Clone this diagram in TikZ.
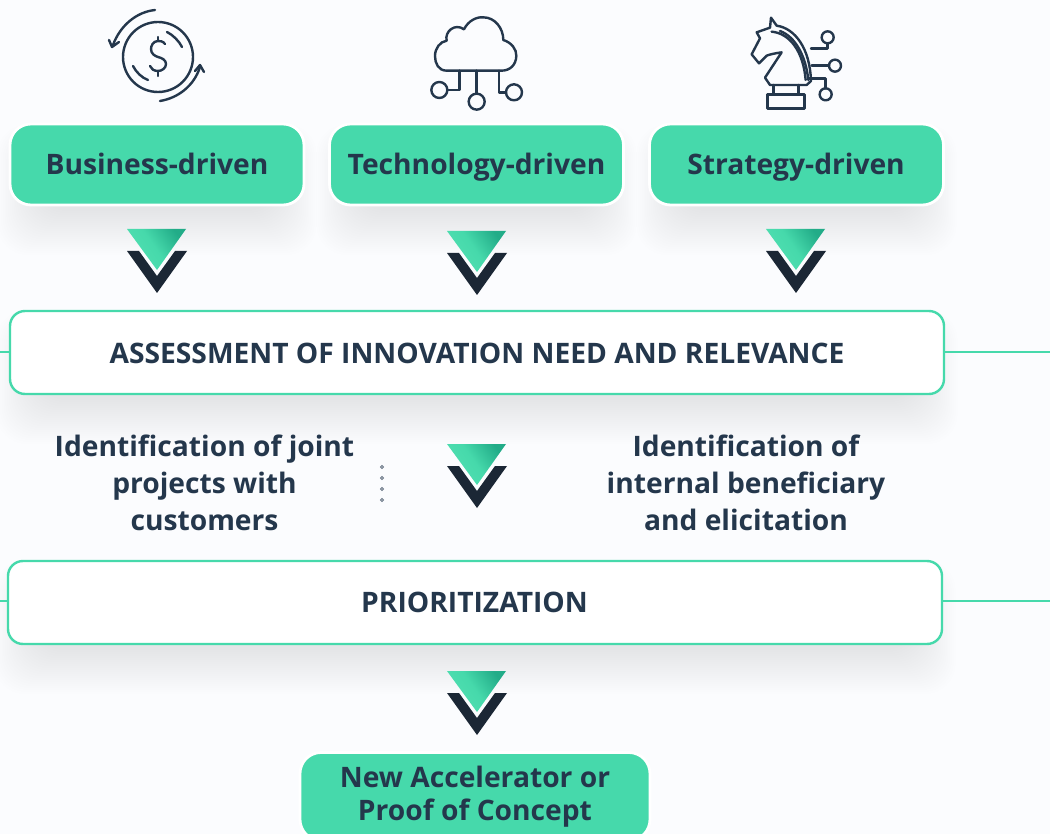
\documentclass[tikz,border=0pt]{standalone}
\usepackage{fontspec}
\setmainfont{Open Sans}
\usetikzlibrary{calc}
\definecolor{bgc}{HTML}{FBFCFE}
\definecolor{mint}{HTML}{46D9AB}
\definecolor{ink}{HTML}{24374C}
\definecolor{navy}{HTML}{1B2735}
\definecolor{mintlight}{HTML}{52E0B2}
\definecolor{mintdark}{HTML}{22AC88}
\newcommand{\softshadow}[4]{%
  \foreach \s in {0,2,...,44}{
    \fill[black,opacity=0.0032,rounded corners=30pt]
      ($(#1,#2)+(26-\s*0.9,30-\s*0.7)$) rectangle ($(#3,#4)+(\s*0.9-26,6+\s)$);
  }}
\tikzset{
  x=1pt,y=-1pt,
  drivebox/.style={draw=white,line width=2.8pt,fill=mint,rounded corners=21pt,inner sep=0pt},
  stagebox/.style={draw=mint,line width=2.4pt,fill=white,rounded corners=15pt,inner sep=0pt},
  link/.style={draw=mint,line width=2.4pt},
  label/.style={text=ink,font=\fontsize{28.2}{37}\selectfont\bfseries,align=center,inner sep=0pt},
  icon/.style={draw=ink,line width=2.4pt,line cap=round,line join=round},
  chevron/.pic={
    \shade[bottom color=mintlight,top color=mintdark,shading angle=-55,middle color=mint]
      (-30,0) -- (29,0) -- (0,41) -- cycle;
    \fill[navy] (-30,22) -- (-18,22) -- (0,47) -- (18,22) -- (30,22) -- (0,64) -- cycle;
  }
}
\begin{document}
\begin{tikzpicture}
\useasboundingbox (0,0) rectangle (1050,834);
\clip (0,0) rectangle (1050,834);
\fill[bgc] (0,0) rectangle (1050,834);
% shadows
\softshadow{11}{125}{303}{205}
\softshadow{330}{125}{623}{205}
\softshadow{650}{125}{943}{205}
\softshadow{10}{311}{944}{394}
\softshadow{8}{561}{942}{644}
% connector ends
\coordinate (al) at (0,352);
\coordinate (ar) at (1050,352);
\coordinate (pl) at (0,601);
\coordinate (pr) at (1050,601);
% boxes
\node[drivebox,minimum width=294pt,minimum height=81pt] (biz) at (157,164.5) {};
\node[drivebox,minimum width=294pt,minimum height=81pt] (tech) at (476.5,164.5) {};
\node[drivebox,minimum width=294pt,minimum height=81pt] (strat) at (796.5,164.5) {};
\node[stagebox,minimum width=934pt,minimum height=83pt] (assess) at (477,352.5) {};
\node[stagebox,minimum width=934pt,minimum height=83pt] (prior) at (475,602.5) {};
\node[drivebox,minimum width=350pt,minimum height=88pt] (newc) at (475,796.5) {};
\draw[link] (al) -- (al -| assess.west);
\draw[link] (ar -| assess.east) -- (ar);
\draw[link] (pl) -- (pl -| prior.west);
\draw[link] (pr -| prior.east) -- (pr);
% texts
\node[label,anchor=base] (t1) at (157,175) {Business-driven};
\node[label,anchor=base] (t2) at (476.5,175) {Technology-driven};
\node[label,anchor=base] (t3) at (796,175) {Strategy-driven};
\node[label,anchor=base] (t4) at (477,363) {ASSESSMENT OF INNOVATION NEED AND RELEVANCE};
\node[label,anchor=base] (t5) at (474.5,612) {PRIORITIZATION};
\node[label] (t6) at (204.5,483) {Identification of joint\\projects with\\customers};
\node[label] (t7) at (746,483) {Identification of\\internal beneficiary\\and elicitation};
\node[label,font=\fontsize{28.2}{33}\selectfont\bfseries] (t8) at (475,797) {New Accelerator or\\Proof of Concept};
% chevrons
\pic at (157,229) {chevron};
\pic at (477,231) {chevron};
\pic at (796,229) {chevron};
\pic at (477,444) {chevron};
\pic at (477,671) {chevron};
% dots
\foreach \y in {467,478,489,500}
  \draw[ink!70,line width=0.8pt] (382,\y) circle (1.5);
% dollar icon
\draw[icon] (158,57) circle (35);
\draw[icon] (155,10) .. controls (136,12) and (120,26) .. (113,45);
\draw[icon] (109,40) -- (112,47) -- (119,42);
\draw[icon] (160,101) .. controls (178,98) and (194,86) .. (200,67);
\draw[icon] (195,71) -- (200,65) -- (204,72);
\draw[icon] (167,32) .. controls (173,35) and (179,41) .. (182,47);
\draw[icon] (133,66) .. controls (136,72) and (142,78) .. (148,80);
\draw[icon] (165,44) .. controls (163,41) and (160,41) .. (158,41)
  .. controls (153,41) and (151,46) .. (151,49)
  .. controls (151,54) and (155,56) .. (158,57)
  .. controls (162,58) and (166,60) .. (166,64)
  .. controls (166,68) and (162,71) .. (158,71)
  .. controls (154,71) and (151,69) .. (150,66);
\draw[icon] (158,37) -- (158,41);
\draw[icon] (158,71) -- (158,76);
% cloud icon
\begin{scope}[shift={(415,0)},x=0.3333pt,y=-0.3333pt]
\draw[icon] (95,212) .. controls (70,212) and (60,190) .. (60,168)
  .. controls (60,145) and (75,125) .. (95,122)
  .. controls (88,95) and (120,68) .. (147,88)
  .. controls (160,62) and (185,50) .. (205,52)
  .. controls (240,52) and (265,85) .. (265,120)
  .. controls (290,128) and (305,148) .. (304,168)
  .. controls (303,195) and (285,212) .. (260,212) -- cycle;
\draw[icon] (73,270) circle (24);
\draw[icon] (185,305) circle (24);
\draw[icon] (297,277) circle (24);
\draw[icon] (133,212) -- (133,270) -- (98,270);
\draw[icon] (185,212) -- (185,281);
\draw[icon] (252,212) -- (252,277) -- (273,277);
\end{scope}
% knight icon
\begin{scope}[shift={(735,5)},x=0.3333pt,y=-0.3333pt]
\draw[icon] (215,240) -- (105,240) -- (90,218) -- (140,142)
  .. controls (120,145) and (105,148) .. (95,152)
  -- (72,175) -- (50,148) -- (75,100) -- (65,82) -- (105,68) -- (108,38) -- (125,62)
  .. controls (180,70) and (225,130) .. (228,228) -- (215,240);
\draw[icon] (110,80) .. controls (165,85) and (205,140) .. (212,225);
\draw[icon] (135,78) .. controls (180,95) and (212,150) .. (220,225);
\draw[icon] (115,240) -- (115,268);
\draw[icon] (190,240) -- (190,268);
\draw[icon] (98,268) rectangle (208,310);
\draw[icon] (228,130) -- (278,130) -- (278,115);
\draw[icon] (278,97) circle (18);
\draw[icon] (230,182) -- (282,182);
\draw[icon] (300,182) circle (18);
\draw[icon] (222,220) -- (272,220) -- (272,250);
\draw[icon] (272,268) circle (18);
\end{scope}
\end{tikzpicture}
\end{document}
